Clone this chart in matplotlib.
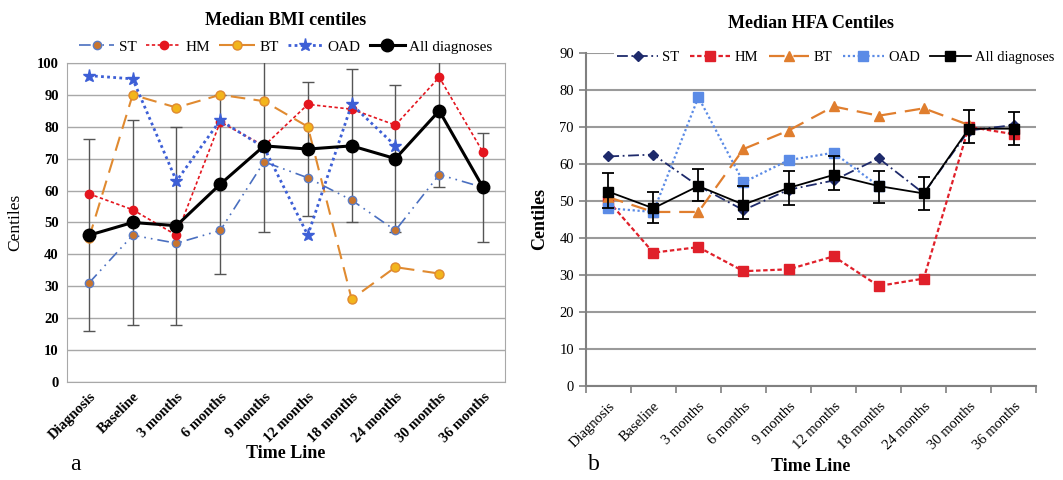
import numpy as np
import matplotlib.pyplot as plt

plt.rcParams['font.family'] = ['Liberation Serif', 'DejaVu Serif']

nan = np.nan
timeline = ['Diagnosis', 'Baseline', '3 months', '6 months', '9 months', '12 months',
            '18 months', '24 months', '30 months', '36 months']

# panel a - median BMI centiles
bmi_st = [31, 46, 43.5, 47.5, 69, 64, 57, 47.5, 65, 61]
bmi_hm = [59, 54, 46, 81.5, 74, 87, 85.5, 80.5, 95.5, 72]
bmi_bt = [45, 90, 86, 90, 88, 80, 26, 36, 34, nan]
bmi_oad = [96, 95, 63, 82, 73.5, 46, 87, 74, nan, nan]
bmi_all = [46, 50, 49, 62, 74, 73, 74, 70, 85, 61]
bmi_all_lo = [16, 18, 18, 34, 47, 52, 50, 47, 61, 44]
bmi_all_hi = [76, 82, 80, 90, 105, 94, 98, 93, 105, 78]

# panel b - median HFA centiles
hfa_st = [62, 62.5, 54, 47.5, 53, 55.5, 61.5, 52, 69, 70.5]
hfa_hm = [50, 36, 37.5, 31, 31.5, 35, 27, 29, 70, 68]
hfa_bt = [51, 47, 47, 64, 69, 75.5, 73, 75, 70.5, nan]
hfa_oad = [48, 47, 78, 55, 61, 63, 54, nan, nan, nan]
hfa_all = [52.5, 48, 54, 49, 53.5, 57, 54, 52, 69.5, 69.5]
hfa_all_lo = [48, 44, 50, 45, 49, 53, 49.5, 47.5, 65.5, 65]
hfa_all_hi = [57.5, 52.5, 58.5, 54, 58, 62, 58, 56.5, 74.5, 74]

x = np.arange(len(timeline))
fig = plt.figure(figsize=(10.63, 4.8), dpi=100)

# ---------------- panel a ----------------
ax1 = fig.add_axes([0.063, 0.204, 0.412, 0.665])
lo = np.array(bmi_all) - np.array(bmi_all_lo)
hi = np.array(bmi_all_hi) - np.array(bmi_all)
ax1.errorbar(x, bmi_all, yerr=[lo, hi], fmt='none', ecolor='#555555', elinewidth=1,
             capsize=4, capthick=1, zorder=3)
ax1.plot(x, bmi_st, color='#4A6FC0', linestyle=(0, (7, 3, 1, 3, 1, 3)), lw=1.2,
         marker='o', ms=6, mfc='#C8752E', mec='#5B7CC4', label='ST', zorder=4)
ax1.plot(x, bmi_hm, color='#E4151E', linestyle=(0, (2, 1.5)), lw=1.2,
         marker='o', ms=6, mfc='#E4151E', mec='#E4151E', label='HM', zorder=4)
ax1.plot(x, bmi_bt, color='#E08A30', linestyle=(0, (7, 4)), lw=1.5,
         marker='o', ms=6.5, mfc='#F2B51C', mec='#E08A30', label='BT', zorder=4)
ax1.plot(x, bmi_oad, color='#3D5FD6', linestyle=(0, (1, 1.2)), lw=2,
         marker='*', ms=9.5, mfc='#3D5FD6', mec='#3D5FD6', label='OAD', zorder=4)
ax1.plot(x, bmi_all, color='black', lw=2.2, marker='o', ms=9, label='All diagnoses', zorder=5)

ax1.set_xlim(-0.5, 9.5)
ax1.set_ylim(0, 100)
ax1.set_yticks(np.arange(0, 101, 10))
ax1.set_xticks(x)
ax1.set_xticklabels(timeline, rotation=45, ha='right', rotation_mode='anchor',
                    fontweight='bold', fontsize=10.5)
for lab in ax1.get_yticklabels():
    lab.set_fontweight('bold')
    lab.set_fontsize(10.5)
ax1.tick_params(length=0, pad=6)
ax1.grid(axis='y', color='#A8A8A8', lw=1)
ax1.set_axisbelow(True)
for s in ax1.spines.values():
    s.set_color('#A8A8A8')
ax1.set_ylabel('Centiles', fontsize=12.5, labelpad=10)
ax1.set_xlabel('Time Line', fontsize=13, fontweight='bold', labelpad=0)
ax1.set_title('Median BMI centiles', fontsize=13, fontweight='bold', pad=27)
ax1.legend(loc='lower center', bbox_to_anchor=(0.5, 1.0), ncol=5, frameon=False,
           fontsize=11, handlelength=2.3, columnspacing=0.6, handletextpad=0.3,
           borderaxespad=0.2)
fig.text(0.066, 0.02, 'a', fontsize=17)

# ---------------- panel b ----------------
ax2 = fig.add_axes([0.551, 0.196, 0.424, 0.694])
lo = np.array(hfa_all) - np.array(hfa_all_lo)
hi = np.array(hfa_all_hi) - np.array(hfa_all)
ax2.plot(x, hfa_st, color='#1E2A6B', linestyle=(0, (6, 2, 1, 2)), lw=1.3,
         marker='D', ms=5, mfc='#1E2A6B', mec='#1E2A6B', label='ST', zorder=4)
ax2.plot(x, hfa_hm, color='#E0202A', linestyle=(0, (2, 1.2)), lw=1.6,
         marker='s', ms=6.5, mfc='#E0202A', mec='#E0202A', label='HM', zorder=4)
ax2.plot(x, hfa_bt, color='#E07E2E', linestyle=(0, (7, 4)), lw=1.6,
         marker='^', ms=7, mfc='#E07E2E', mec='#E07E2E', label='BT', zorder=4)
ax2.plot(x, hfa_oad, color='#5B8BE6', linestyle=(0, (1, 1.2)), lw=1.6,
         marker='s', ms=7, mfc='#5B8BE6', mec='#5B8BE6', label='OAD', zorder=4)
ax2.errorbar(x, hfa_all, yerr=[lo, hi], fmt='none', ecolor='black', elinewidth=1.3,
             capsize=4, capthick=1.3, zorder=5)
ax2.plot(x, hfa_all, color='black', lw=1.3, marker='s', ms=7.5, label='All diagnoses', zorder=5)

ax2.set_xlim(-0.5, 9.5)
ax2.set_ylim(0, 90)
ax2.set_yticks(np.arange(0, 91, 10))
ax2.set_xticks(x)
ax2.set_xticklabels(timeline, rotation=45, ha='right', rotation_mode='anchor', fontsize=10.5)
ax2.set_xticks(np.arange(-0.5, 10, 1), minor=True)
ax2.tick_params(axis='x', which='major', length=0, pad=10)
ax2.tick_params(axis='x', which='minor', length=5, color='#808080', width=1.2)
ax2.tick_params(axis='y', length=5, color='#808080', width=1.2, labelsize=10.5)
ax2.grid(axis='y', color='#9A9A9A', lw=1.5)
ax2.set_axisbelow(True)
ax2.spines['top'].set_visible(False)
ax2.spines['right'].set_visible(False)
ax2.spines['left'].set_color('#808080')
ax2.spines['bottom'].set_color('#808080')
ax2.spines['left'].set_linewidth(1.5)
ax2.spines['bottom'].set_linewidth(1.5)
ax2.set_ylabel('Centiles', fontsize=13, fontweight='bold', labelpad=8)
ax2.set_xlabel('Time Line', fontsize=13, fontweight='bold', labelpad=4)
ax2.set_title('Median HFA Centiles', fontsize=13, fontweight='bold', pad=18)
leg = ax2.legend(loc='center', bbox_to_anchor=(0.555, 0.985), ncol=5, frameon=True,
                 fontsize=10.5, handlelength=2.8, columnspacing=0.7, handletextpad=0.3,
                 borderpad=0.2, fancybox=False)
leg.get_frame().set_edgecolor('none')
leg.get_frame().set_facecolor('white')
leg.get_frame().set_alpha(1)
fig.text(0.553, 0.02, 'b', fontsize=17)

fig.savefig('out.png', dpi=100)
